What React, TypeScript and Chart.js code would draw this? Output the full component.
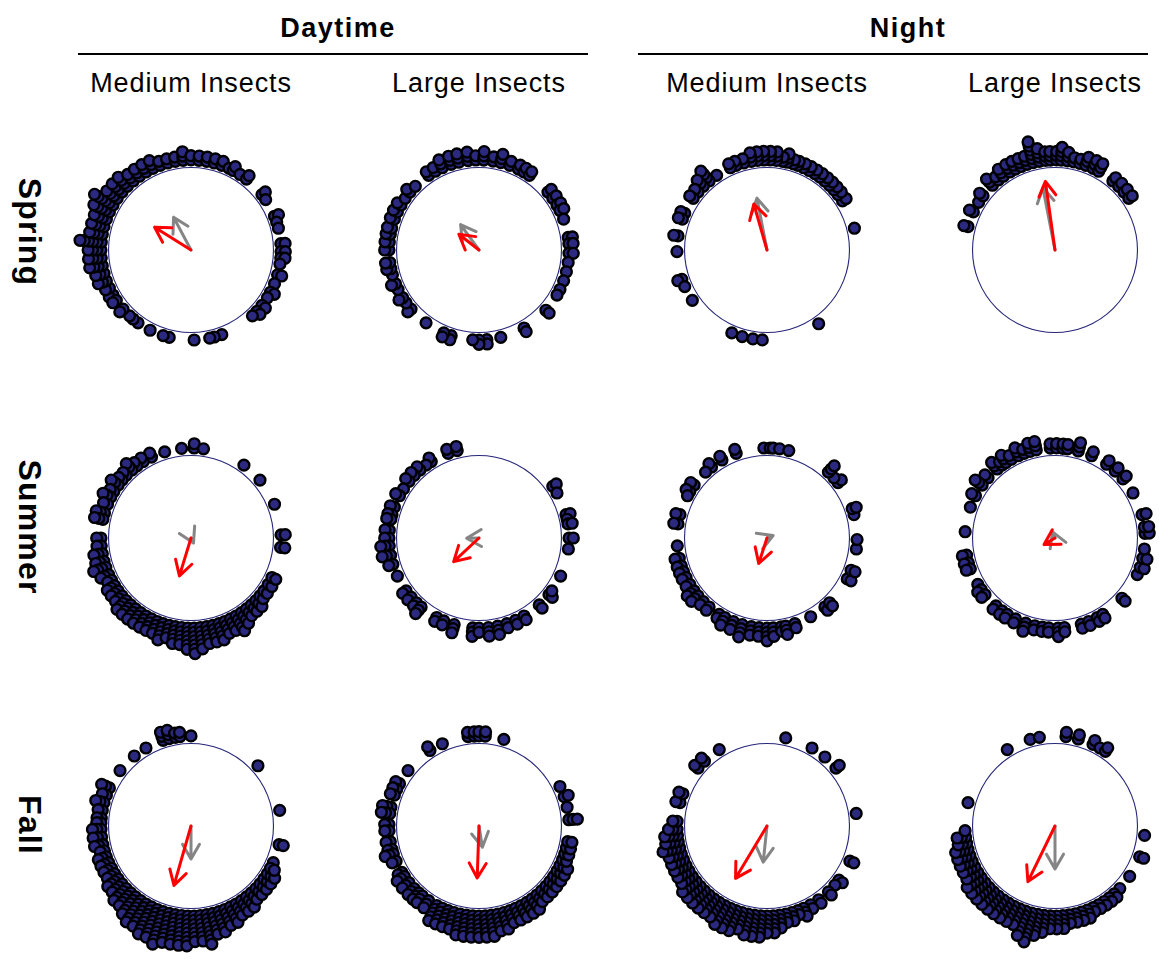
import React, { useEffect, useRef } from "react";
import { Chart, registerables } from "chart.js";

Chart.register(...registerables);

// ---- labels ----
const periodLabels = ["Daytime", "Night"];
const sizeLabels = ["Medium Insects", "Large Insects", "Medium Insects", "Large Insects"];
const seasonLabels = ["Spring", "Summer", "Fall"];

// ---- headings: [bearing in degrees clockwise from north, number of records] ----
const springDayMedium: [number, number][] = [
  [240, 2], [245, 2], [250, 3], [255, 3], [260, 4], [265, 4], [270, 4], [275, 6], [280, 4], [285, 4],
  [290, 4], [295, 5], [300, 6], [305, 4], [310, 4], [315, 4], [320, 3], [325, 3], [330, 3], [335, 3],
  [340, 2], [345, 2], [350, 2], [355, 3], [0, 2], [5, 2], [10, 2], [15, 2], [20, 2], [25, 1], [28, 2],
  [33, 1], [38, 2], [52, 2], [56, 1], [68, 2], [72, 1], [76, 1], [86, 2], [91, 2], [95, 2], [99, 1],
  [106, 2], [112, 1], [118, 2], [122, 1], [128, 2], [133, 2], [137, 1], [160, 1], [165, 1], [168, 1],
  [178, 1], [194, 1], [198, 1], [207, 1], [216, 1], [220, 1], [223, 1], [229, 2], [236, 2],
];
const springDayLarge: [number, number][] = [
  [326, 2], [331, 2], [336, 3], [342, 3], [347, 3], [353, 3], [358, 2], [3, 3], [9, 2], [14, 3],
  [20, 2], [26, 2], [30, 2], [34, 2], [50, 2], [55, 2], [60, 2], [64, 2], [70, 1], [82, 2], [86, 2],
  [92, 2], [98, 1], [104, 1], [110, 1], [116, 1], [120, 1], [132, 2], [150, 2], [166, 1], [175, 2],
  [180, 2], [184, 1], [198, 2], [203, 2], [216, 1], [229, 2], [234, 1], [238, 2], [244, 1], [248, 2],
  [254, 1], [258, 2], [262, 2], [270, 2], [275, 2], [280, 2], [284, 2], [290, 2], [295, 2], [300, 2],
  [305, 1], [310, 2], [315, 1],
];
const springNightMedium: [number, number][] = [
  [57, 2], [52, 2], [48, 2], [44, 2], [40, 2], [36, 2], [32, 2], [28, 2], [24, 2], [20, 2], [17, 2],
  [13, 3], [10, 2], [6, 3], [2, 3], [358, 3], [354, 3], [350, 3], [345, 2], [340, 2], [336, 2],
  [326, 1], [320, 4], [315, 3], [310, 2], [305, 2], [294, 2], [290, 2], [279, 2], [269, 1], [251, 2],
  [246, 1], [236, 1], [203, 1], [196, 1], [189, 1], [183, 1], [145, 1], [76, 1],
];
const springNightLarge: [number, number][] = [
  [285, 2], [295, 2], [302, 1], [307, 2], [316, 3], [321, 2], [325, 3], [330, 3], [334, 3], [338, 3],
  [342, 3], [346, 6], [350, 4], [354, 3], [357, 3], [1, 3], [4, 4], [8, 3], [12, 2], [16, 2], [20, 3],
  [25, 3], [29, 3], [40, 2], [45, 2], [50, 2], [55, 2],
];
const summerDayMedium: [number, number][] = [
  [354, 1], [2, 2], [8, 1], [334, 2], [343, 1], [328, 2], [323, 2], [319, 3], [314, 2], [310, 2],
  [306, 3], [301, 2], [297, 3], [292, 2], [286, 3], [282, 3], [270, 2], [265, 2], [260, 3], [255, 3],
  [251, 4], [246, 3], [242, 2], [238, 3], [234, 3], [230, 3], [226, 4], [222, 4], [218, 4], [214, 4],
  [210, 4], [206, 4], [202, 4], [198, 5], [194, 4], [190, 5], [186, 5], [182, 6], [178, 7], [174, 6],
  [170, 5], [166, 5], [162, 5], [158, 4], [154, 4], [150, 5], [146, 4], [142, 3], [138, 3], [134, 3],
  [130, 2], [126, 2], [121, 2], [116, 2], [88, 2], [96, 2], [68, 1], [50, 1], [36, 1],
];
const summerDayLarge: [number, number][] = [
  [340, 2], [346, 2], [328, 2], [324, 1], [319, 2], [314, 2], [309, 2], [303, 1], [298, 2], [290, 2],
  [285, 2], [282, 2], [275, 2], [270, 2], [265, 3], [259, 3], [253, 2], [245, 1], [234, 2], [229, 2],
  [224, 2], [220, 3], [208, 2], [203, 2], [196, 3], [184, 3], [180, 2], [174, 3], [168, 3], [162, 2],
  [156, 2], [150, 2], [138, 2], [129, 2], [126, 1], [115, 1], [55, 2], [60, 1], [75, 2], [78, 1],
  [81, 2], [90, 2], [97, 1],
];
const summerNightMedium: [number, number][] = [
  [358, 1], [2, 1], [4, 1], [8, 1], [14, 1], [340, 2], [330, 2], [322, 2], [317, 1], [306, 2],
  [301, 2], [298, 1], [285, 2], [279, 2], [265, 1], [257, 2], [252, 2], [248, 2], [244, 2], [239, 2],
  [234, 3], [230, 3], [225, 2], [220, 2], [212, 2], [208, 3], [202, 3], [196, 4], [190, 3], [185, 3],
  [180, 4], [176, 3], [171, 2], [168, 3], [162, 2], [151, 1], [140, 2], [136, 2], [117, 2], [111, 2],
  [97, 1], [91, 1], [75, 1], [71, 2], [52, 2], [48, 1], [43, 3],
];
const summerNightLarge: [number, number][] = [
  [320, 3], [324, 2], [327, 3], [331, 2], [336, 3], [340, 2], [344, 3], [348, 3], [357, 2], [1, 2],
  [5, 2], [8, 2], [15, 3], [24, 2], [35, 2], [42, 2], [49, 2], [60, 1], [312, 2], [306, 3], [298, 2],
  [290, 1], [274, 1], [259, 2], [254, 2], [250, 2], [239, 1], [235, 2], [231, 2], [221, 2], [216, 2],
  [212, 2], [206, 2], [199, 3], [193, 2], [188, 2], [184, 2], [178, 3], [174, 2], [163, 2], [158, 2],
  [152, 2], [148, 2], [132, 2], [114, 1], [109, 2], [103, 2], [97, 1], [87, 2], [83, 2], [75, 2],
];
const fallDayMedium: [number, number][] = [
  [342, 3], [346, 3], [350, 2], [353, 2], [0, 1], [330, 1], [321, 1], [308, 1], [48, 1], [80, 1],
  [102, 2], [114, 1], [295, 3], [290, 2], [285, 3], [280, 2], [275, 2], [272, 2], [268, 3], [263, 3],
  [258, 3], [254, 2], [250, 3], [246, 3], [242, 3], [238, 3], [234, 4], [230, 4], [226, 5], [222, 5],
  [218, 6], [214, 7], [210, 7], [206, 8], [202, 8], [198, 9], [194, 8], [190, 8], [186, 8], [182, 8],
  [178, 7], [174, 7], [170, 8], [166, 6], [162, 6], [158, 5], [154, 5], [150, 4], [146, 4], [142, 4],
  [138, 3], [134, 3], [130, 3], [126, 3], [122, 3], [118, 2],
];
const fallDayLarge: [number, number][] = [
  [353, 2], [357, 2], [0, 2], [4, 2], [16, 1], [327, 2], [336, 1], [308, 1], [298, 2], [294, 2],
  [290, 2], [282, 3], [278, 3], [271, 2], [267, 2], [260, 2], [255, 2], [252, 3], [247, 2], [239, 2],
  [236, 3], [231, 3], [226, 3], [222, 3], [219, 3], [214, 3], [208, 5], [204, 5], [200, 5], [196, 5],
  [192, 6], [188, 6], [184, 6], [180, 6], [176, 6], [172, 6], [168, 5], [164, 5], [160, 4], [156, 4],
  [152, 4], [148, 4], [144, 4], [140, 3], [136, 3], [132, 3], [128, 3], [124, 3], [120, 3], [116, 3],
  [112, 2], [108, 2], [104, 2], [100, 2], [86, 3], [78, 1], [71, 2], [64, 1],
];
const fallNightMedium: [number, number][] = [
  [12, 1], [30, 1], [40, 1], [50, 2], [82, 1], [113, 2], [127, 2], [131, 1], [137, 2], [145, 2],
  [151, 2], [156, 3], [160, 2], [164, 3], [168, 3], [172, 4], [176, 5], [180, 5], [184, 6], [188, 6],
  [192, 6], [196, 5], [200, 6], [204, 6], [208, 6], [212, 5], [216, 5], [220, 5], [224, 5], [228, 5],
  [232, 5], [236, 4], [240, 4], [244, 4], [248, 4], [252, 4], [256, 5], [260, 4], [264, 4], [268, 3],
  [273, 2], [285, 2], [291, 2], [310, 2], [316, 2], [328, 1],
];
const fallNightLarge: [number, number][] = [
  [328, 1], [344, 1], [350, 1], [7, 2], [15, 2], [25, 2], [30, 1], [34, 2], [285, 1], [96, 1],
  [110, 2], [124, 1], [134, 1], [139, 2], [143, 2], [147, 2], [151, 2], [155, 2], [159, 3], [163, 3],
  [167, 3], [171, 3], [175, 4], [179, 4], [183, 4], [187, 5], [191, 6], [195, 8], [199, 7], [203, 5],
  [207, 5], [211, 5], [215, 5], [219, 5], [223, 5], [227, 5], [231, 5], [235, 5], [239, 4], [243, 4],
  [247, 4], [251, 4], [255, 4], [259, 3], [263, 3], [267, 1],
];

// ---- mean vectors: direction (degrees clockwise from north) and length (0..1) ----
const redDirection = [
  [302, 308, 344, 352],
  [197, 227, 198, 239],
  [196, 182, 211, 206],
];
const redLength = [
  [0.52, 0.31, 0.58, 0.84],
  [0.48, 0.42, 0.325, 0.155],
  [0.75, 0.63, 0.74, 0.75],
];
const grayDirection = [
  [332, 324, 349, 349],
  [154, 269, 68, 338],
  [180, 171, 186, 180],
];
const grayLength = [
  [0.45, 0.38, 0.64, 0.77],
  [0.068, 0.15, 0.08, 0.08],
  [0.4, 0.26, 0.44, 0.52],
];

const panelData = [
  [springDayMedium, springDayLarge, springNightMedium, springNightLarge],
  [summerDayMedium, summerDayLarge, summerNightMedium, summerNightLarge],
  [fallDayMedium, fallDayLarge, fallNightMedium, fallNightLarge],
];

// ---- layout ----
const COL_X = [191, 479, 767, 1055];
const ROW_Y = [250, 538, 826];
const RADIUS_PX = 87;
const CANVAS_PX = 300;
const HALF_SPAN = CANVAS_PX / 2 / RADIUS_PX;
const STACK_BASE = 1 + 8 / RADIUS_PX;
const STACK_STEP = 4.5 / RADIUS_PX;
const HEAD_PX = 17;

const FONT = '"Liberation Sans", Arial, Helvetica, sans-serif';

const rad = (d: number) => (d * Math.PI) / 180;

function drawArrow(chart: any, dirDeg: number, len: number, color: string) {
  const { ctx, scales } = chart;
  const xs = scales.x;
  const ys = scales.y;
  const x0 = xs.getPixelForValue(0);
  const y0 = ys.getPixelForValue(0);
  const x1 = xs.getPixelForValue(len * Math.sin(rad(dirDeg)));
  const y1 = ys.getPixelForValue(len * Math.cos(rad(dirDeg)));
  const phi = Math.atan2(y1 - y0, x1 - x0);
  ctx.save();
  ctx.strokeStyle = color;
  ctx.lineWidth = 3;
  ctx.lineCap = "round";
  ctx.lineJoin = "round";
  ctx.beginPath();
  ctx.moveTo(x0, y0);
  ctx.lineTo(x1, y1);
  ctx.moveTo(x1 + HEAD_PX * Math.cos(phi + Math.PI - Math.PI / 6), y1 + HEAD_PX * Math.sin(phi + Math.PI - Math.PI / 6));
  ctx.lineTo(x1, y1);
  ctx.lineTo(x1 + HEAD_PX * Math.cos(phi + Math.PI + Math.PI / 6), y1 + HEAD_PX * Math.sin(phi + Math.PI + Math.PI / 6));
  ctx.stroke();
  ctx.restore();
}

function CircularPanel({ row, col }: { row: number; col: number }) {
  const ref = useRef<HTMLCanvasElement>(null);
  useEffect(() => {
    if (!ref.current) return;
    const points: { x: number; y: number }[] = [];
    for (const [bearing, count] of panelData[row][col]) {
      for (let k = 0; k < count; k++) {
        const r = STACK_BASE + k * STACK_STEP;
        points.push({ x: r * Math.sin(rad(bearing)), y: r * Math.cos(rad(bearing)) });
      }
    }
    const unitCircle = {
      id: "unitCircle",
      beforeDatasetsDraw(chart: any) {
        const { ctx, scales } = chart;
        const cx = scales.x.getPixelForValue(0);
        const cy = scales.y.getPixelForValue(0);
        const r = scales.x.getPixelForValue(1) - cx;
        ctx.save();
        ctx.beginPath();
        ctx.arc(cx, cy, r, 0, Math.PI * 2);
        ctx.strokeStyle = "#26267a";
        ctx.lineWidth = 1.1;
        ctx.stroke();
        ctx.restore();
      },
    };
    const meanArrows = {
      id: "meanArrows",
      afterDatasetsDraw(chart: any) {
        drawArrow(chart, grayDirection[row][col], grayLength[row][col], "#858585");
        drawArrow(chart, redDirection[row][col], redLength[row][col], "#ff0000");
      },
    };
    const chart = new Chart(ref.current, {
      type: "scatter",
      data: {
        datasets: [
          {
            data: points,
            pointRadius: 5.4,
            pointHoverRadius: 5.4,
            pointBorderWidth: 2.4,
            pointBackgroundColor: "#2b2a80",
            pointBorderColor: "#000000",
          },
        ],
      },
      options: {
        responsive: false,
        maintainAspectRatio: false,
        animation: false,
        events: [],
        layout: { padding: 0 },
        scales: {
          x: { type: "linear", min: -HALF_SPAN, max: HALF_SPAN, display: false },
          y: { type: "linear", min: -HALF_SPAN, max: HALF_SPAN, display: false },
        },
        plugins: { legend: { display: false }, tooltip: { enabled: false } },
      },
      plugins: [unitCircle, meanArrows],
    } as any);
    return () => chart.destroy();
  }, [row, col]);
  return (
    <canvas
      ref={ref}
      width={CANVAS_PX}
      height={CANVAS_PX}
      style={{
        position: "absolute",
        left: COL_X[col] - CANVAS_PX / 2,
        top: ROW_Y[row] - CANVAS_PX / 2,
        width: CANVAS_PX,
        height: CANVAS_PX,
      }}
    />
  );
}

const centered = (x: number, y: number, extra: React.CSSProperties): React.CSSProperties => ({
  position: "absolute",
  left: x,
  top: y,
  transform: "translate(-50%, -50%)",
  whiteSpace: "nowrap",
  fontFamily: FONT,
  color: "#000",
  ...extra,
});

export default function App() {
  const headerX = [338, 908];
  const ruleLeft = [78, 638];
  const seasonY = [232, 527, 825];
  return (
    <div
      style={{
        position: "absolute",
        left: 0,
        top: 0,
        width: 1159,
        height: 965,
        overflow: "hidden",
        background: "#ffffff",
      }}
    >
      {periodLabels.map((p, i) => (
        <React.Fragment key={p}>
          <div style={centered(headerX[i], 27.5, { fontSize: 27, lineHeight: "27px", fontWeight: 700, letterSpacing: 1.5 })}>
            {p}
          </div>
          <div
            style={{
              position: "absolute",
              left: ruleLeft[i],
              top: 53,
              width: 510,
              height: 2,
              background: "#000",
            }}
          />
        </React.Fragment>
      ))}
      {sizeLabels.map((s, i) => (
        <div key={i} style={centered(COL_X[i], 83, { fontSize: 27, lineHeight: "27px", letterSpacing: 0.9 })}>
          {s}
        </div>
      ))}
      {seasonLabels.map((s, i) => (
        <div
          key={s}
          style={{
            ...centered(30, seasonY[i], { fontSize: 32, lineHeight: "32px", fontWeight: 700, letterSpacing: 1.2 }),
            transform: "translate(-50%, -50%) rotate(90deg)",
          }}
        >
          {s}
        </div>
      ))}
      {ROW_Y.map((_, r) => COL_X.map((__, c) => <CircularPanel key={`${r}-${c}`} row={r} col={c} />))}
    </div>
  );
}
